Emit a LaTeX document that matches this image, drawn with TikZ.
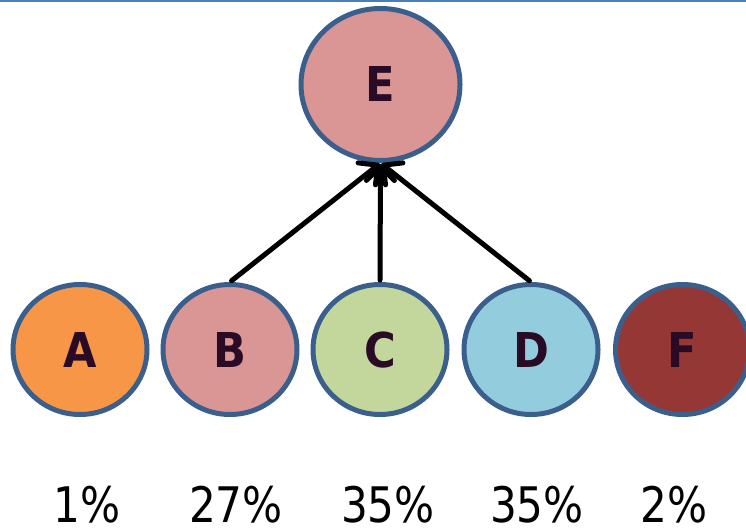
\documentclass[tikz,border=0pt]{standalone}
\usepackage{fontspec}
\setmainfont{DejaVu Sans}
\newfontfamily\lettersfont[FakeStretch=0.9]{DejaVu Sans Bold}
\newfontfamily\pctfont[FakeStretch=0.86]{DejaVu Sans}
\usetikzlibrary{shapes.geometric,arrows.meta}

\definecolor{rimblue}{HTML}{3A5F8D}
\definecolor{topline}{HTML}{4A7EBB}
\definecolor{inkdark}{HTML}{2A0B26}
\definecolor{fillA}{HTML}{F79646}
\definecolor{fillB}{HTML}{D99694}
\definecolor{fillC}{HTML}{C3D69B}
\definecolor{fillD}{HTML}{93CDDD}
\definecolor{fillE}{HTML}{D99694}
\definecolor{fillF}{HTML}{953735}

\tikzset{
  bubble/.style={ellipse, draw=rimblue, line width=5pt, inner sep=0pt,
    minimum width=134pt, minimum height=130pt,
    font=\lettersfont\fontsize{48}{48}\selectfont, text=inkdark,
    text height=35pt, text depth=0pt},
  topbubble/.style={bubble, minimum width=159pt, minimum height=152pt},
  link/.style={line width=5pt, line cap=round, shorten <=2pt, shorten >=1pt,
    -{Straight Barb[length=14pt,width=28pt,line cap=round,line join=round]}},
  share/.style={anchor=base, font=\pctfont\fontsize{49}{49}\selectfont, text=black,
    inner sep=0pt, text depth=0pt}
}

\begin{document}
\begin{tikzpicture}[x=1pt,y=-1pt]
  \useasboundingbox (0,0) rectangle (746,529);
  \clip (0,0) rectangle (746,529);

  % rule along the top edge
  \draw[topline, line width=2pt] (0,1) -- (746,1);

  % parent node
  \node[topbubble, fill=fillE] (E) at (380.5,84.5) {E};

  % row of child nodes
  \node[bubble, fill=fillA] (A) at (80,349.5) {A};
  \node[bubble, fill=fillB] (B) at (230,349.5) {B};
  \node[bubble, fill=fillC] (C) at (380,349.5) {C};
  \node[bubble, fill=fillD] (D) at (531,349.5) {D};
  \node[bubble, fill=fillF] (F) at (682.5,349.5) {F};

  % links into E
  \draw[link] (B.north) -- (E.south);
  \draw[link] (C.north) -- (E.south);
  \draw[link] (D.north) -- (E.south);

  % shares
  \node[share] (pA) at (87,522) {1\%};
  \node[share] (pB) at (236,522) {27\%};
  \node[share] (pC) at (388,522) {35\%};
  \node[share] (pD) at (537,522) {35\%};
  \node[share] (pF) at (674,522) {2\%};
\end{tikzpicture}
\end{document}
